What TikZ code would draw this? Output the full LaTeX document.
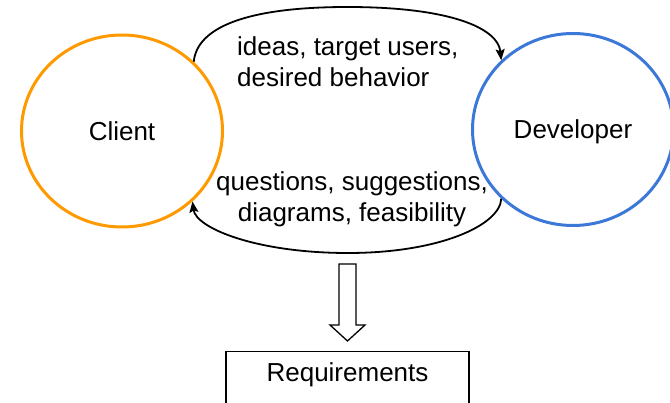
\documentclass[tikz,border=0pt]{standalone}
\usepackage{fontspec}
\setmainfont{Liberation Sans}
\usetikzlibrary{shapes.geometric,arrows.meta}
\definecolor{clientorange}{HTML}{FF9900}
\definecolor{devblue}{HTML}{3C78D8}
\begin{document}
\begin{tikzpicture}[x=1pt,y=-1pt, font=\fontsize{26}{31}\selectfont,
  party/.style={ellipse, line width=3pt, minimum width=201pt, minimum height=192pt,
    inner sep=0pt, text height=18.8pt, text depth=0pt},
  flow/.style={line width=1.8pt, -{Stealth[length=11pt,width=9pt,inset=2pt]}},
  lbl/.style={inner sep=0pt}]
\useasboundingbox (0,0) rectangle (670,403);
\clip (0,0) rectangle (670,403);
\node[party, draw=clientorange] (client) at (122,131) {Client};
\node[party, draw=devblue] (dev) at (573,129.5) {Developer};
\node[lbl, align=left, anchor=north west] (ideas) at (237,36) {ideas, target users,\\desired behavior};
\node[lbl, align=center, anchor=north] (quest) at (352,171) {questions, suggestions,\\diagrams, feasibility};
\draw[flow] (client.44) .. controls (197,28) and (245,7) .. (347.5,7)
  .. controls (450,7) and (498,28) .. (dev.136);
\draw[flow] (dev.224) .. controls (500,225) and (440,253) .. (348,253)
  .. controls (256,253) and (196,228) .. (client.315);
\draw[line width=1.3pt, fill=white] (339,264) -- (356,264) -- (356,325) -- (365,325)
  -- (347.5,341) -- (330,325) -- (339,325) -- cycle;
\node[draw, line width=1.3pt, minimum width=243pt, inner xsep=0pt, inner ysep=0pt,
  text height=30pt, text depth=40pt, anchor=north] (req) at (347.5,351) {Requirements};
\end{tikzpicture}
\end{document}
